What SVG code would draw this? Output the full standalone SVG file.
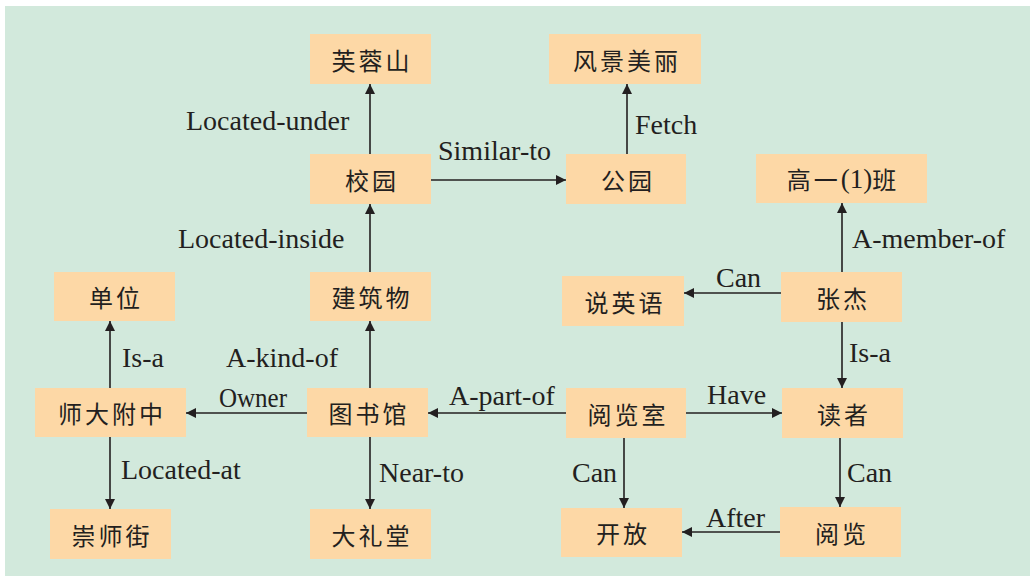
<svg xmlns="http://www.w3.org/2000/svg" width="1030" height="576" viewBox="0 0 1030 576">
<defs>
<style>
.n rect{fill:#FDD8A6;}
.n text{font-family:"Noto Sans CJK SC","Noto Sans CJK TC",sans-serif;font-size:24px;fill:#231F20;text-anchor:middle;dominant-baseline:central;letter-spacing:3px;}
.n tspan.p{font-family:"Liberation Serif","Times New Roman",serif;font-size:27px;letter-spacing:0;}
.c line{stroke:#231F20;stroke-width:1.6;marker-end:url(#ah);}
.l{font-family:"Liberation Serif","Times New Roman",serif;font-size:28px;fill:#231F20;}
</style>
<marker id="ah" viewBox="0 0 10 10" refX="10" refY="5" markerWidth="10" markerHeight="10" markerUnits="userSpaceOnUse" orient="auto">
<path d="M0,0 L10,5 L0,10 Z" fill="#231F20"/>
</marker>
</defs>
<rect x="0" y="0" width="1030" height="576" fill="#FFFFFF"/>
<rect x="5" y="6" width="1025" height="570" fill="#D2E9DC"/>

<g id="connectors" class="c">
<line x1="370" y1="154" x2="370" y2="84"/>
<line x1="370" y1="272" x2="370" y2="204"/>
<line x1="370" y1="388" x2="370" y2="321"/>
<line x1="370" y1="437" x2="370" y2="509"/>
<line x1="307" y1="413" x2="186" y2="413"/>
<line x1="110" y1="388" x2="110" y2="321"/>
<line x1="110" y1="437" x2="110" y2="509"/>
<line x1="431" y1="180" x2="566" y2="180"/>
<line x1="627" y1="154" x2="627" y2="84"/>
<line x1="842" y1="272" x2="842" y2="203"/>
<line x1="781" y1="293" x2="684" y2="293"/>
<line x1="842" y1="322" x2="842" y2="388"/>
<line x1="566" y1="413" x2="428" y2="413"/>
<line x1="686" y1="413" x2="782" y2="413"/>
<line x1="624" y1="438" x2="624" y2="508"/>
<line x1="840" y1="438" x2="840" y2="507"/>
<line x1="780" y1="532" x2="682" y2="532"/>
</g>

<g id="labels">
<text class="l" x="186" y="130">Located-under</text>
<text class="l" x="178" y="248">Located-inside</text>
<text class="l" x="226" y="367">A-kind-of</text>
<text class="l" x="219" y="407" textLength="68" lengthAdjust="spacingAndGlyphs">Owner</text>
<text class="l" x="379" y="482">Near-to</text>
<text class="l" x="122" y="367">Is-a</text>
<text class="l" x="121" y="479">Located-at</text>
<text class="l" x="438" y="160">Similar-to</text>
<text class="l" x="635" y="134">Fetch</text>
<text class="l" x="852" y="248">A-member-of</text>
<text class="l" x="716" y="287">Can</text>
<text class="l" x="849" y="362">Is-a</text>
<text class="l" x="449" y="405">A-part-of</text>
<text class="l" x="707" y="404">Have</text>
<text class="l" x="572" y="482">Can</text>
<text class="l" x="847" y="482">Can</text>
<text class="l" x="706" y="527">After</text>
</g>

<g id="n-furongshan" class="n"><rect x="310" y="34" width="121" height="50"/><text x="372" y="59">芙蓉山</text></g>
<g id="n-fengjing" class="n"><rect x="549" y="34" width="152" height="50"/><text x="627" y="59">风景美丽</text></g>
<g id="n-xiaoyuan" class="n"><rect x="310" y="154" width="121" height="50"/><text x="372" y="179">校园</text></g>
<g id="n-gongyuan" class="n"><rect x="566" y="154" width="120" height="50"/><text x="628" y="179">公园</text></g>
<g id="n-gaoyi" class="n"><rect x="756" y="154" width="171" height="49"/><text x="843" y="178.5">高一<tspan class="p">(1)</tspan>班</text></g>
<g id="n-danwei" class="n"><rect x="54" y="272" width="121" height="49"/><text x="116" y="296.5">单位</text></g>
<g id="n-jianzhuwu" class="n"><rect x="310" y="272" width="121" height="49"/><text x="372" y="296.5">建筑物</text></g>
<g id="n-shuoyingyu" class="n"><rect x="562" y="276" width="122" height="50"/><text x="625" y="301">说英语</text></g>
<g id="n-zhangjie" class="n"><rect x="781" y="272" width="121" height="50"/><text x="843" y="297">张杰</text></g>
<g id="n-shidafuzhong" class="n"><rect x="35" y="388" width="151" height="49"/><text x="112" y="412.5">师大附中</text></g>
<g id="n-tushuguan" class="n"><rect x="307" y="388" width="121" height="49"/><text x="369" y="412.5">图书馆</text></g>
<g id="n-yuelanshi" class="n"><rect x="566" y="388" width="120" height="50"/><text x="628" y="413">阅览室</text></g>
<g id="n-duzhe" class="n"><rect x="782" y="388" width="121" height="50"/><text x="844" y="413">读者</text></g>
<g id="n-chongshijie" class="n"><rect x="50" y="509" width="121" height="50"/><text x="112" y="534">崇师街</text></g>
<g id="n-dalitang" class="n"><rect x="310" y="509" width="121" height="50"/><text x="372" y="534">大礼堂</text></g>
<g id="n-kaifang" class="n"><rect x="561" y="508" width="121" height="49"/><text x="623" y="532.5">开放</text></g>
<g id="n-yuelan" class="n"><rect x="780" y="507" width="121" height="50"/><text x="842" y="532">阅览</text></g>
</svg>
